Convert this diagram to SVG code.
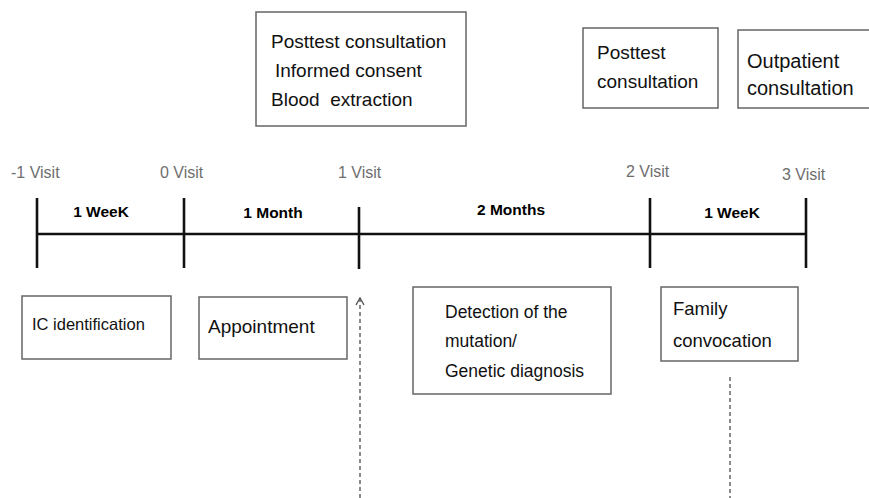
<svg xmlns="http://www.w3.org/2000/svg" width="869" height="498" viewBox="0 0 869 498">
<style>
.box{fill:#fff;stroke:#666;stroke-width:1.5}
.t{font-family:"Liberation Sans",Arial,sans-serif;fill:#111}
.visit{font-family:"Liberation Sans",Arial,sans-serif;fill:#6e6e6e;font-size:16px}
.per{font-family:"Liberation Sans",Arial,sans-serif;fill:#000;font-size:15.5px;font-weight:bold}
.axis{stroke:#111;stroke-width:2.6;fill:none}
.dash{stroke:#666;stroke-width:1.5;stroke-dasharray:4 3;fill:none}
</style>
<defs>
<marker id="chev" viewBox="0 0 10 10" refX="9" refY="5" markerWidth="10" markerHeight="10" markerUnits="userSpaceOnUse" orient="auto">
<path d="M2,1 L9,5 L2,9" fill="none" stroke="#555" stroke-width="1.4"/>
</marker>
</defs>
<rect width="869" height="498" fill="#fff"/>
<g id="timeline">
<line class="axis" x1="37" y1="234" x2="807" y2="234"/>
<line class="axis" x1="37" y1="198" x2="37" y2="268"/>
<line class="axis" x1="184" y1="198" x2="184" y2="268"/>
<line class="axis" x1="359" y1="207" x2="359" y2="269"/>
<line class="axis" x1="650" y1="198" x2="650" y2="268"/>
<line class="axis" x1="806" y1="198" x2="806" y2="268"/>
<text class="visit" x="11" y="178">-1 Visit</text>
<text class="visit" x="160" y="178">0 Visit</text>
<text class="visit" x="338" y="178">1 Visit</text>
<text class="visit" x="626" y="177">2 Visit</text>
<text class="visit" x="782" y="180">3 Visit</text>
<text class="per" x="101" y="217" text-anchor="middle">1 WeeK</text>
<text class="per" x="273" y="218" text-anchor="middle">1 Month</text>
<text class="per" x="511" y="215" text-anchor="middle">2 Months</text>
<text class="per" x="732" y="218" text-anchor="middle">1 WeeK</text>
</g>
<g id="node-visit1">
<rect class="box" x="256" y="12" width="210" height="114"/>
<text class="t" font-size="19" x="271" y="48">Posttest consultation</text>
<text class="t" font-size="19" x="275" y="77">Informed consent</text>
<text class="t" font-size="19" x="271" y="106" xml:space="preserve">Blood  extraction</text>
</g>
<g id="node-posttest">
<rect class="box" x="583" y="28" width="135" height="80"/>
<text class="t" font-size="19" x="597" y="59">Posttest</text>
<text class="t" font-size="19" x="597" y="88">consultation</text>
</g>
<g id="node-outpatient">
<rect class="box" x="738" y="30" width="136" height="78"/>
<text class="t" font-size="20" x="747" y="68">Outpatient</text>
<text class="t" font-size="20" x="747" y="95">consultation</text>
</g>
<g id="node-ic">
<rect class="box" x="22" y="296" width="149" height="63"/>
<text class="t" font-size="16.5" x="32" y="330">IC identification</text>
</g>
<g id="node-appointment">
<rect class="box" x="199" y="297" width="148" height="62"/>
<text class="t" font-size="19" x="208" y="333">Appointment</text>
</g>
<g id="node-detection">
<rect class="box" x="413" y="287" width="198" height="107"/>
<text class="t" font-size="17.5" x="445" y="318">Detection of the</text>
<text class="t" font-size="17.5" x="445" y="347">mutation/</text>
<text class="t" font-size="17.5" x="445" y="377">Genetic diagnosis</text>
</g>
<g id="node-family">
<rect class="box" x="661" y="287" width="137" height="74"/>
<text class="t" font-size="18.5" x="673" y="315">Family</text>
<text class="t" font-size="18.5" x="673" y="347">convocation</text>
</g>
<g id="connectors">
<line class="dash" x1="360" y1="498" x2="360" y2="298" marker-end="url(#chev)"/>
<line class="dash" x1="730" y1="377" x2="730" y2="498"/>
</g>
</svg>
